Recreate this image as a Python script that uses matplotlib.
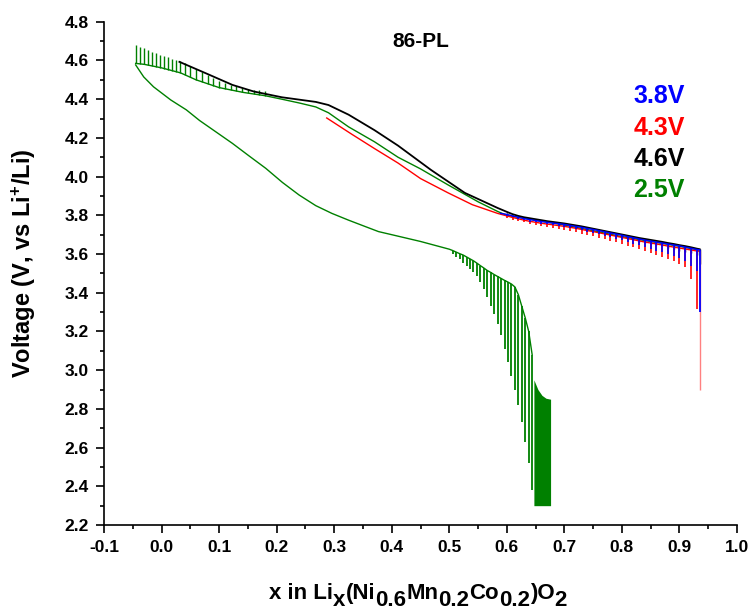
import matplotlib
matplotlib.use('Agg')
import matplotlib.pyplot as plt
from matplotlib.ticker import MultipleLocator, FormatStrFormatter
import numpy as np

plt.rcParams['font.family'] = ['Liberation Sans', 'DejaVu Sans']
plt.rcParams['font.weight'] = 'bold'
plt.rcParams['mathtext.fontset'] = 'custom'
plt.rcParams['mathtext.rm'] = 'Liberation Sans:bold'
plt.rcParams['mathtext.bf'] = 'Liberation Sans:bold'
plt.rcParams['mathtext.default'] = 'bf'

# # 2.5V cycle: discharge branch (smooth part)
g_dis_x = [-0.045, -0.031, -0.014, 0.016, 0.043, 0.066, 0.095, 0.123, 0.152, 0.181, 0.21,
           0.239, 0.268, 0.296, 0.325, 0.354, 0.377, 0.40, 0.45, 0.50]
g_dis_v = [4.577, 4.515, 4.464, 4.396, 4.345, 4.29, 4.23, 4.172, 4.107, 4.043, 3.97,
           3.905, 3.85, 3.81, 3.775, 3.742, 3.716, 3.70, 3.665, 3.625]

# # 2.5V cycle: discharge tail pulses (top / bottom of each relaxation)
g_tail_x = [0.506, 0.512, 0.518, 0.524, 0.530, 0.536, 0.542, 0.548, 0.554, 0.560,
            0.566, 0.572, 0.578, 0.584, 0.590, 0.596, 0.602, 0.608, 0.614, 0.620, 0.626,
            0.632, 0.638, 0.644]
g_tail_top = [3.618, 3.610, 3.602, 3.595, 3.585, 3.575, 3.565, 3.553, 3.540, 3.528,
              3.515, 3.505, 3.494, 3.484, 3.474, 3.464, 3.455, 3.445, 3.430, 3.390, 3.330,
              3.270, 3.200, 3.080]
g_tail_bot = [3.600, 3.585, 3.572, 3.555, 3.540, 3.522, 3.505, 3.488, 3.455, 3.420,
              3.380, 3.330, 3.290, 3.240, 3.180, 3.110, 3.040, 2.970, 2.900, 2.820, 2.730,
              2.630, 2.520, 2.380]
g_block_x = [0.647, 0.654, 0.661, 0.668, 0.676]
g_block_top = [2.95, 2.90, 2.87, 2.855, 2.85]
g_block_bot = [2.30, 2.30, 2.30, 2.30, 2.30]

# # 2.5V cycle: charge branch
g_chg_x = [0.935, 0.90, 0.80, 0.70, 0.60, 0.584, 0.55, 0.498, 0.45, 0.411, 0.37, 0.325,
           0.29, 0.268, 0.24, 0.209, 0.18, 0.142, 0.10, 0.08, 0.06, 0.033, 0.0, -0.03, -0.045]
g_chg_v = [3.62, 3.64, 3.69, 3.75, 3.80, 3.82, 3.87, 3.957, 4.04, 4.10, 4.18, 4.257,
           4.33, 4.36, 4.38, 4.40, 4.418, 4.435, 4.46, 4.48, 4.50, 4.536, 4.562, 4.58, 4.585]
g_top_x = [-0.045, -0.038, -0.031, -0.024, -0.017, -0.010, -0.003, 0.004, 0.011, 0.018,
           0.025, 0.032, 0.040, 0.050, 0.060, 0.070, 0.080, 0.090, 0.100, 0.110, 0.120,
           0.130, 0.140, 0.150, 0.160, 0.170, 0.180]
g_top_hi = [4.680, 4.670, 4.662, 4.654, 4.646, 4.638, 4.630, 4.622, 4.616, 4.610,
            4.604, 4.598, 4.585, 4.570, 4.555, 4.540, 4.525, 4.510, 4.495, 4.485, 4.475,
            4.468, 4.460, 4.455, 4.450, 4.445, 4.440]
g_top_lo = [4.585, 4.584, 4.581, 4.577, 4.572, 4.567, 4.562, 4.556, 4.550, 4.544,
            4.538, 4.535, 4.526, 4.513, 4.500, 4.490, 4.480, 4.470, 4.460, 4.454, 4.448,
            4.443, 4.437, 4.432, 4.428, 4.423, 4.418]

# # 4.6V and 4.3V charge (before the common plateau)
k_x = [0.031, 0.08, 0.123, 0.16, 0.209, 0.268, 0.29, 0.325, 0.37, 0.411, 0.468, 0.527, 0.584]
k_v = [4.593, 4.53, 4.474, 4.44, 4.41, 4.386, 4.37, 4.32, 4.24, 4.16, 4.035, 3.916, 3.838]
r_x = [0.287, 0.33, 0.37, 0.411, 0.45, 0.498, 0.54, 0.584]
r_v = [4.303, 4.22, 4.145, 4.07, 3.99, 3.916, 3.855, 3.81]
b_x0 = 0.589
b_v0 = 3.81

# # common plateau region with GITT pulses
end_x = [0.60, 0.61, 0.62, 0.63, 0.64, 0.65, 0.66, 0.67, 0.68, 0.69, 0.70, 0.71, 0.72,
         0.73, 0.74, 0.75, 0.76, 0.77, 0.78, 0.79, 0.80, 0.81, 0.82, 0.83, 0.84, 0.85,
         0.86, 0.87, 0.88, 0.89, 0.90, 0.91, 0.92, 0.93]
blue_v = [3.805, 3.797, 3.790, 3.783, 3.778, 3.773, 3.768, 3.764, 3.760, 3.757, 3.753, 3.748,
          3.743, 3.738, 3.732, 3.727, 3.721, 3.715, 3.709, 3.703, 3.697, 3.690, 3.684,
          3.678, 3.672, 3.667, 3.662, 3.657, 3.652, 3.647, 3.642, 3.636, 3.630, 3.624]
red_v = [3.797, 3.789, 3.782, 3.775, 3.769, 3.764, 3.759, 3.755, 3.751, 3.747, 3.743, 3.738,
         3.733, 3.727, 3.721, 3.716, 3.710, 3.704, 3.698, 3.692, 3.686, 3.680, 3.674,
         3.668, 3.662, 3.657, 3.652, 3.647, 3.641, 3.636, 3.631, 3.626, 3.621, 3.616]
black_v = [3.818, 3.806, 3.797, 3.790, 3.785, 3.780, 3.775, 3.770, 3.766, 3.762, 3.758, 3.753,
           3.748, 3.743, 3.737, 3.731, 3.725, 3.719, 3.713, 3.707, 3.701, 3.695, 3.689,
           3.683, 3.678, 3.673, 3.668, 3.663, 3.657, 3.652, 3.646, 3.641, 3.635, 3.628]
blue_d = [0.008, 0.008, 0.009, 0.009, 0.010, 0.010, 0.011, 0.011, 0.012, 0.012, 0.013, 0.014,
          0.015, 0.016, 0.017, 0.018, 0.019, 0.021, 0.022, 0.024, 0.026, 0.028, 0.030,
          0.033, 0.036, 0.040, 0.044, 0.048, 0.052, 0.057, 0.062, 0.070, 0.090, 0.110]
red_d = [0.010, 0.011, 0.012, 0.012, 0.013, 0.013, 0.014, 0.015, 0.016, 0.016, 0.017, 0.018,
         0.020, 0.021, 0.022, 0.024, 0.025, 0.027, 0.029, 0.031, 0.034, 0.037, 0.040,
         0.043, 0.047, 0.052, 0.057, 0.062, 0.068, 0.074, 0.081, 0.095, 0.150, 0.300]
black_d = [0.004, 0.005, 0.005, 0.006, 0.006, 0.007, 0.007, 0.008, 0.008, 0.009, 0.009, 0.010,
           0.010, 0.011, 0.012, 0.012, 0.013, 0.014, 0.015, 0.016, 0.017, 0.018, 0.019,
           0.020, 0.021, 0.022, 0.023, 0.024, 0.025, 0.026, 0.028, 0.030, 0.032, 0.035]

# # final open-circuit drops (x, from V, to V)
blue_drop = (0.935, 3.622, 3.30)
red_drop = (0.936, 3.614, 2.90)
black_drop = (0.935, 3.625, 3.55)

labels = ['3.8V', '4.3V', '4.6V', '2.5V']
clrs = ['blue', 'red', 'black', 'green']

#

fig = plt.figure(figsize=(7.5, 6.1), dpi=100)
ax = fig.add_axes([0.1387, 0.1393, 0.844, 0.825])

# green
ax.plot(g_chg_x, g_chg_v, color='green', lw=1.0)
ax.vlines(g_top_x, g_top_lo, g_top_hi, color='green', lw=1.0)
ax.plot(g_dis_x + g_tail_x, g_dis_v + g_tail_top, color='green', lw=1.0)
ax.vlines(g_tail_x, g_tail_bot, g_tail_top, color='green', lw=1.3)
ax.fill_between(g_block_x, g_block_bot, g_block_top, color='green', lw=0)

# black
ax.plot(k_x + end_x + [black_drop[0]], k_v + black_v + [black_drop[1]], color='black', lw=1.3)
ax.vlines(end_x, np.array(black_v) - np.array(black_d), black_v, color='black', lw=1.0)
ax.vlines(black_drop[0], black_drop[2], black_drop[1], color='black', lw=1.0)

# red
ax.plot(r_x + end_x + [red_drop[0]], r_v + red_v + [red_drop[1]], color='red', lw=1.0)
ax.vlines(end_x, np.array(red_v) - np.array(red_d), red_v, color='red', lw=1.2)
ax.vlines(red_drop[0], red_drop[2], red_drop[1], color='#ff8080', lw=1.0)

# blue
ax.plot([b_x0] + end_x + [blue_drop[0]], [b_v0] + blue_v + [blue_drop[1]], color='blue', lw=1.0)
ax.vlines(end_x, np.array(blue_v) - np.array(blue_d), blue_v, color='blue', lw=1.2)
ax.vlines(blue_drop[0], blue_drop[2], blue_drop[1], color='blue', lw=1.3)

ax.set_xlim(-0.1, 1.0)
ax.set_ylim(2.2, 4.8)
ax.xaxis.set_major_locator(MultipleLocator(0.1))
ax.xaxis.set_minor_locator(MultipleLocator(0.05))
ax.yaxis.set_major_locator(MultipleLocator(0.2))
ax.yaxis.set_minor_locator(MultipleLocator(0.1))
ax.xaxis.set_major_formatter(FormatStrFormatter('%.1f'))
ax.yaxis.set_major_formatter(FormatStrFormatter('%.1f'))
ax.tick_params(which='major', direction='out', length=6, width=1.2, labelsize=12.5, pad=5)
ax.tick_params(which='minor', direction='out', length=3, width=1.2)
for lab in ax.get_xticklabels() + ax.get_yticklabels():
    lab.set_fontweight('bold')
ax.spines['top'].set_visible(False)
ax.spines['right'].set_visible(False)
ax.spines['left'].set_linewidth(1.2)
ax.spines['bottom'].set_linewidth(1.2)

ax.set_ylabel(r'Voltage (V, vs Li$^{+}$/Li)', fontsize=17, fontweight='bold')
ax.yaxis.set_label_coords(-0.105, 0.52)

# x label with full-size subscripts, built piece by piece
xlab = [('x in Li', 0), ('x', 1), ('(Ni', 0), ('0.6', 1), ('Mn', 0), ('0.2', 1),
        ('Co', 0), ('0.2', 1), (')O', 0), ('2', 1)]
renderer = fig.canvas.get_renderer()
W, H = fig.bbox.width, fig.bbox.height
parts = []
for s, sub in xlab:
    t = fig.text(0, 0, s, fontsize=16, fontweight='bold', ha='left', va='baseline')
    parts.append((t, sub, t.get_window_extent(renderer).width))
total = sum(p[2] for p in parts)
xp = 418 - total / 2
for t, sub, w in parts:
    yb = 606 if sub else 599
    t.set_position((xp / W, (H - yb) / H))
    xp += w

ax.text(0.451, 4.696, '86-PL', fontsize=15, fontweight='bold', ha='center', va='center')
ys = [4.417, 4.252, 4.091, 3.931]
for lab, c, yv in zip(labels, clrs, ys):
    ax.text(0.82, yv, lab, color=c, fontsize=18, fontweight='bold', ha='left', va='center')

fig.savefig('out.png', dpi=100)
